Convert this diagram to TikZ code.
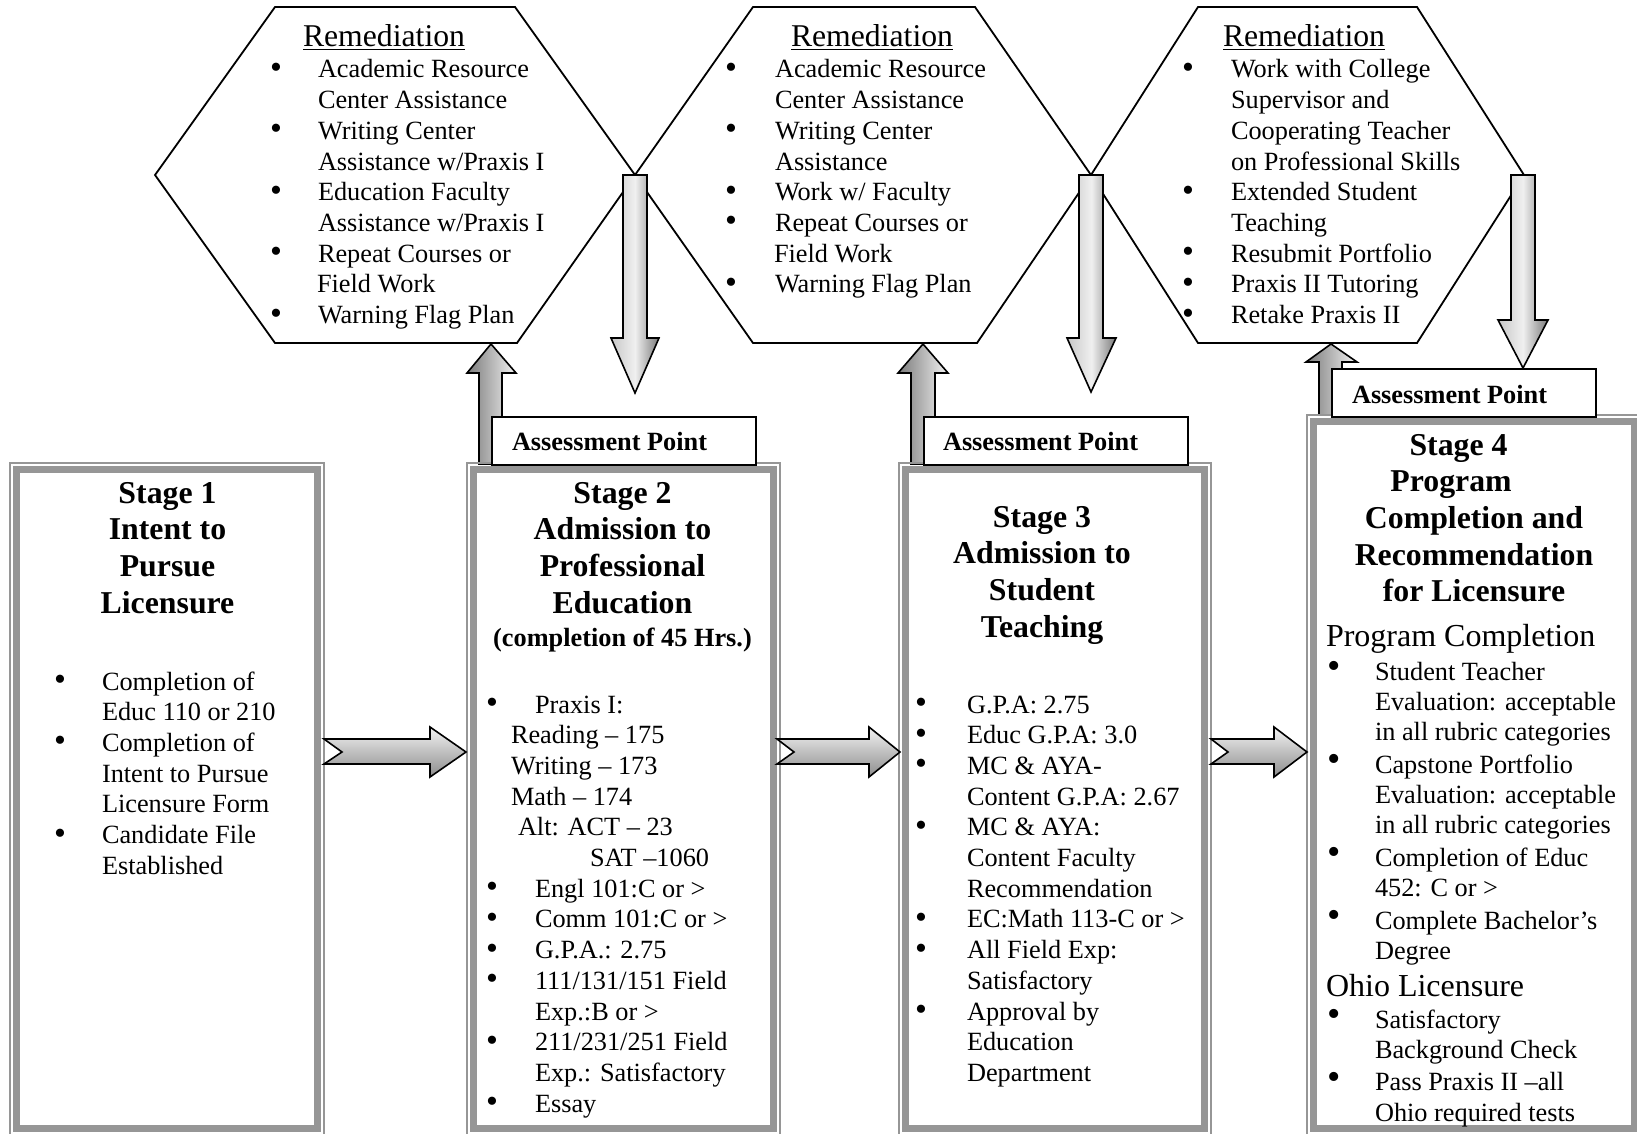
\documentclass[tikz,border=0pt]{standalone}
\usepackage{fontspec}
\setmainfont{Liberation Serif}
\usetikzlibrary{calc}
\definecolor{boxgray}{RGB}{150,150,150}
\newcommand{\fbody}{\fontsize{26.3}{30.7}\selectfont}
\newcommand{\fbodyb}{\fontsize{26.3}{30.3}\selectfont}
\newcommand{\ftitle}{\fontsize{31.8}{36.7}\selectfont\bfseries}
\newcommand{\fhead}{\fontsize{31.7}{31.7}\selectfont}
\newcommand{\bu}[1]{\makebox[0pt]{\raisebox{-0.5pt}{\fontsize{34}{34}\selectfont\textbullet}}\hspace*{#1pt}}
\newcommand{\bbu}[1]{\makebox[0pt]{\raisebox{1.5pt}{\fontsize{38}{38}\selectfont\textbullet}}\hspace*{#1pt}}
\newcommand{\ind}[1]{\hspace*{#1pt}}
\tikzset{
  txt/.style={anchor=base west, inner sep=0pt, outer sep=0pt},
  ttl/.style={anchor=base, inner sep=0pt, outer sep=0pt},
  hexline/.style={draw=black, line width=1.8pt, line join=miter},
  stageouter/.style={draw=boxgray, line width=1.5pt, rectangle, inner sep=0pt},
  stageband/.style={draw=boxgray, line width=7pt},
  apbox/.style={draw=black, fill=white, line width=1.8pt, rectangle, inner sep=0pt, anchor=north west},
  downarr/.style={draw=black, line width=1.6pt, line join=miter, left color=black!22, right color=black!52, middle color=black!6},
  uparr/.style={draw=black, line width=1.6pt, line join=miter, left color=black!52, right color=black!5},
  horarr/.style={draw=black, line width=1.6pt, line join=miter, top color=black!5, bottom color=black!45},
}
\begin{document}
\begin{tikzpicture}[x=1pt,y=-1pt]
\fill[white] (0,0) rectangle (1637,1134);
\useasboundingbox (0,0) rectangle (1637,1134);

% hexagons
\draw[hexline] (275,7) -- (515,7) -- (635,175) -- (517,343) -- (275,343) -- (155,175) -- cycle;
\draw[hexline] (753,7) -- (975,7) -- (1091,175) -- (977,343) -- (753,343) -- (635,175) -- cycle;
\draw[hexline] (1198,7) -- (1417,7) -- (1524,175) -- (1417,343) -- (1198,343) -- (1091,175) -- cycle;

% hexagon texts
\node[ttl] (r1) at (384,47) {\fhead\underline{Remediation}};
\node[txt] (l1) at (276,78) {\parbox[t]{340pt}{\raggedright\fbody
\bu{42}Academic Resource\\
\ind{42}Center Assistance\\
\bu{42}Writing Center\\
\ind{42}Assistance w/Praxis I\\
\bu{42}Education Faculty\\
\ind{42}Assistance w/Praxis I\\
\bu{42}Repeat Courses or\\
\ind{41}Field Work\\
\bu{42}Warning Flag Plan}};

\node[ttl] (r2) at (872,47) {\fhead\underline{Remediation}};
\node[txt] (l2) at (731,78) {\parbox[t]{340pt}{\raggedright\fbody
\bu{44}Academic Resource\\
\ind{44}Center Assistance\\
\bu{44}Writing Center\\
\ind{44}Assistance\\
\bu{44}Work w/ Faculty\\
\bu{44}Repeat Courses or\\
\ind{43}Field Work\\
\bu{44}Warning Flag Plan}};

\node[ttl] (r3) at (1304,47) {\fhead\underline{Remediation}};
\node[txt] (l3) at (1188,78) {\parbox[t]{340pt}{\raggedright\fbody
\bu{43}Work with College\\
\ind{43}Supervisor and\\
\ind{43}Cooperating Teacher\\
\ind{43}on Professional Skills\\
\bu{43}Extended Student\\
\ind{43}Teaching\\
\bu{43}Resubmit Portfolio\\
\bu{43}Praxis II Tutoring\\
\bu{43}Retake Praxis II}};

% down arrows
\draw[downarr] (623,175) -- (647,175) -- (647,338) -- (659,338) -- (635,393) -- (611,338) -- (623,338) -- cycle;
\draw[downarr] (1079,175) -- (1103,175) -- (1103,338) -- (1116,338) -- (1091,392) -- (1067,338) -- (1079,338) -- cycle;
\draw[downarr] (1511,175) -- (1535,175) -- (1535,320) -- (1548,320) -- (1523,368) -- (1498,320) -- (1511,320) -- cycle;

% up arrows
\draw[uparr] (479,464) -- (479,373) -- (467,373) -- (491,344) -- (516,373) -- (502,373) -- (502,464) -- cycle;
\draw[uparr] (911,464) -- (911,373) -- (898,373) -- (923,344) -- (948,373) -- (935,373) -- (935,464) -- cycle;
\draw[uparr] (1319,415) -- (1319,362) -- (1306,362) -- (1331,344) -- (1357,362) -- (1342,362) -- (1342,415) -- cycle;

% stage boxes
\node[stageouter, minimum width=314, minimum height=672.5] (s1) at (167,799.25) {};
\node[stageouter, minimum width=313, minimum height=672.5] (s2) at (623.5,799.25) {};
\node[stageouter, minimum width=312, minimum height=672.5] (s3) at (1055,799.25) {};
\node[stageouter, minimum width=334, minimum height=720.5] (s4) at (1474,775.25) {};
\foreach \s in {s1,s2,s3,s4}{
  \draw[stageband] ([xshift=7.5pt,yshift=-7.5pt]\s.north west) rectangle ([xshift=-7.5pt,yshift=7.5pt]\s.south east);
}

% assessment points
\node[apbox, minimum width=264, minimum height=48] (a1) at (491,416) {};
\node[apbox, minimum width=264, minimum height=48] (a2) at (923,416) {};
\node[apbox, minimum width=264, minimum height=48] (a3) at (1331,368) {};
\node[txt] (a1t) at (512,450) {\fbody\bfseries Assessment Point};
\node[txt] (a2t) at (943,450) {\fbody\bfseries Assessment Point};
\node[txt] (a3t) at (1352,403) {\fbody\bfseries Assessment Point};

% horizontal arrows
\draw[horarr] (324,739) -- (430,739) -- (430,727) -- (466,752) -- (430,777) -- (430,764) -- (324,764) -- (342,752) -- cycle;
\draw[horarr] (777,739) -- (869,739) -- (869,727) -- (900,752) -- (869,777) -- (869,764) -- (777,764) -- (794,752) -- cycle;
\draw[horarr] (1211,739) -- (1274,739) -- (1274,727) -- (1307,752) -- (1274,777) -- (1274,764) -- (1211,764) -- (1228,752) -- cycle;

% stage 1
\node[ttl] (t1) at (167.5,503) {\parbox[t]{300pt}{\centering\ftitle Stage 1\\Intent to\\Pursue\\Licensure}};
\node[txt] (b1) at (60,690) {\parbox[t]{300pt}{\raggedright\fbody
\bu{42}Completion of\\
\ind{42}Educ 110 or 210\\
\bu{42}Completion of\\
\ind{42}Intent to Pursue\\
\ind{42}Licensure Form\\
\bu{42}Candidate File\\
\ind{42}Established}};

% stage 2
\node[ttl] (t2) at (622.5,503) {\parbox[t]{300pt}{\centering\ftitle Stage 2\\Admission to\\Professional\\Education}};
\node[ttl] (t2b) at (622.5,646) {\fbody\bfseries (completion of 45 Hrs.)};
\node[txt] (b2) at (492,713) {\parbox[t]{300pt}{\raggedright\fbody
\bu{43}Praxis I:\\
\ind{19}Reading -- 175\\
\ind{19}Writing -- 173\\
\ind{19}Math -- 174\\
\ind{26}Alt: ACT -- 23\\
\ind{98}SAT --1060\\
\bu{43}Engl 101:C or >\\
\bu{43}Comm 101:C or >\\
\bu{43}G.P.A.: 2.75\\
\bu{43}111/131/151 Field\\
\ind{43}Exp.:B or >\\
\bu{43}211/231/251 Field\\
\ind{43}Exp.: Satisfactory\\
\bu{43}Essay}};

% stage 3
\node[ttl] (t3) at (1042,527) {\parbox[t]{300pt}{\centering\ftitle Stage 3\\Admission to\\Student\\Teaching}};
\node[txt] (b3) at (921,713) {\parbox[t]{300pt}{\raggedright\fbody
\bu{46}G.P.A: 2.75\\
\bu{46}Educ G.P.A: 3.0\\
\bu{46}MC \& AYA-\\
\ind{46}Content G.P.A: 2.67\\
\bu{46}MC \& AYA:\\
\ind{46}Content Faculty\\
\ind{46}Recommendation\\
\bu{46}EC:Math 113-C or >\\
\bu{46}All Field Exp:\\
\ind{46}Satisfactory\\
\bu{46}Approval by\\
\ind{46}Education\\
\ind{46}Department}};

% stage 4
\node[ttl] (t4) at (1474,455) {\parbox[t]{330pt}{\centering\ftitle Stage 4\kern31pt\\Program\kern46pt\\Completion and\\Recommendation\\for Licensure}};
\node[txt] (h4a) at (1326,646) {\fontsize{32}{32}\selectfont Program Completion};
\node[txt] (b4a) at (1334,680.3) {\parbox[t]{300pt}{\raggedright\fbodyb
\bbu{41}Student Teacher\\
\ind{41}Evaluation: acceptable\\
\ind{41}in all rubric categories\\[2.1pt]
\bbu{41}Capstone Portfolio\\
\ind{41}Evaluation: acceptable\\
\ind{41}in all rubric categories\\[2.1pt]
\bbu{41}Completion of Educ\\
\ind{41}452: C or >\\[2.1pt]
\bbu{41}Complete Bachelor's\\
\ind{41}Degree}};
\node[txt] (h4b) at (1326,996) {\fontsize{32}{32}\selectfont Ohio Licensure};
\node[txt] (b4b) at (1334,1028) {\parbox[t]{300pt}{\raggedright\fbodyb
\bbu{41}Satisfactory\\
\ind{41}Background Check\\[2.1pt]
\bbu{41}Pass Praxis II --all\\
\ind{41}Ohio required tests}};
\end{tikzpicture}
\end{document}
